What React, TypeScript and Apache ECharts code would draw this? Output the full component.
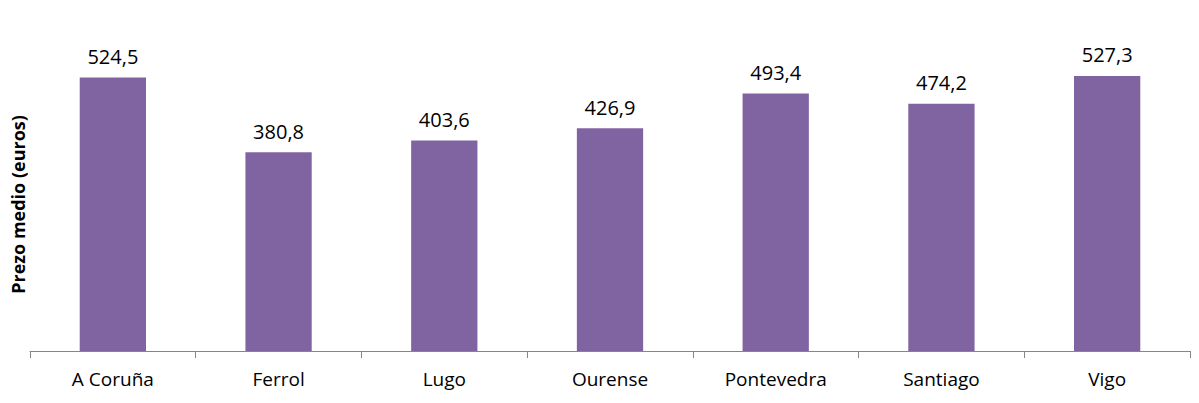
import React, { useEffect, useRef } from "react";
import * as echarts from "echarts";

const categories = ["A Coruña", "Ferrol", "Lugo", "Ourense", "Pontevedra", "Santiago", "Vigo"];
const values = [524.5, 380.8, 403.6, 426.9, 493.4, 474.2, 527.3];
const yTitle = "Prezo medio (euros)";

export default function App() {
  const ref = useRef<HTMLDivElement>(null);
  useEffect(() => {
    if (!ref.current) return;
    const chart = echarts.init(ref.current, null, { renderer: "svg" });
    chart.setOption({
      animation: false,
      grid: { left: 30, right: 9, top: 38, bottom: 52, containLabel: false, outerBoundsMode: "none" },
      xAxis: {
        type: "category",
        data: categories,
        axisLine: { lineStyle: { color: "#868686", width: 1 } },
        axisTick: { show: true, length: 7, lineStyle: { color: "#868686" } },
        axisLabel: { color: "#000", fontFamily: "Open Sans", fontSize: 19, margin: 18 },
      },
      yAxis: {
        type: "value",
        min: 0,
        max: 600,
        show: true,
        axisLine: { show: false },
        axisTick: { show: false },
        axisLabel: { show: false },
        splitLine: { show: false },
        name: yTitle,
        nameLocation: "middle",
        nameGap: 3,
        nameTextStyle: {
          color: "#000",
          fontFamily: "Open Sans",
          fontWeight: "bold",
          fontSize: 18,
          padding: [0, 20, 0, 0],
        },
      },
      series: [
        {
          type: "bar",
          data: values,
          barCategoryGap: "60%",
          itemStyle: { color: "#8064A2" },
          label: {
            show: true,
            position: "top",
            distance: 11,
            color: "#000",
            fontFamily: "Open Sans",
            fontSize: 20,
            formatter: (p: any) => String(p.value.toFixed(1)).replace(".", ","),
          },
        },
      ],
    });
    return () => chart.dispose();
  }, []);
  return <div ref={ref} style={{ width: 1199, height: 403, position: "absolute", left: 0, top: 0 }} />;
}
